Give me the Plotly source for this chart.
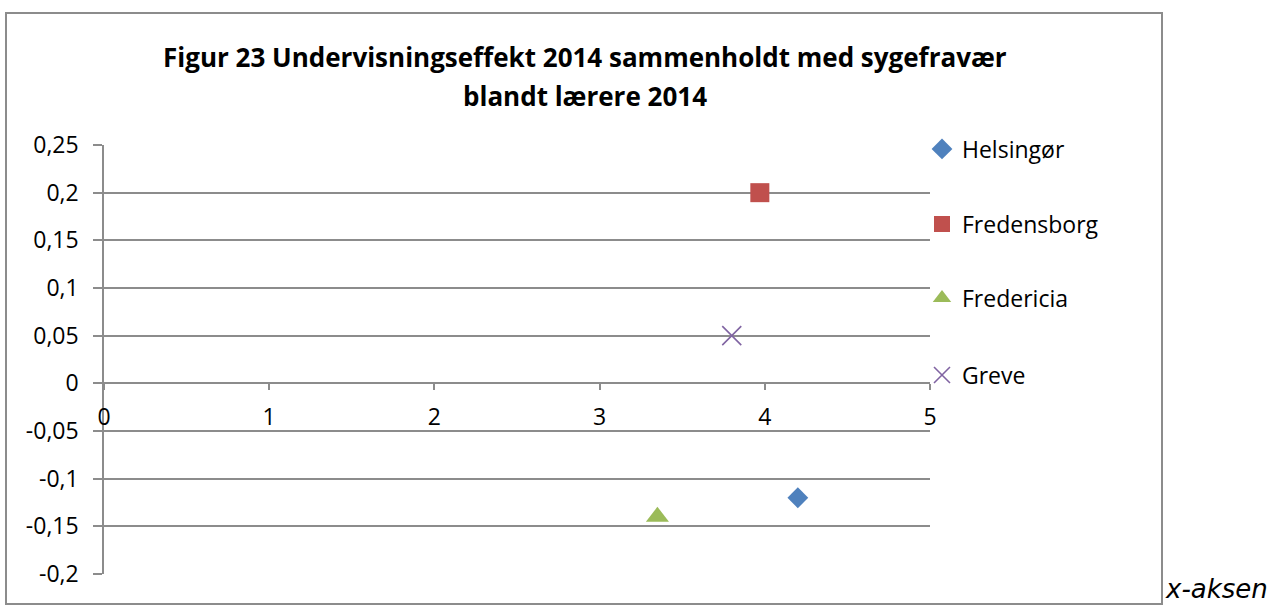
import plotly.graph_objects as go

names = ["Helsingør", "Fredensborg", "Fredericia", "Greve"]
x_vals = [4.2, 3.97, 3.35, 3.8]
y_vals = [-0.12, 0.2, -0.14, 0.05]
colors = ["#4F81BD", "#C0504D", "#9BBB59", "#8064A2"]
symbols = ["diamond", "square", "triangle-up", "x-thin-open"]
sizes = [16, 19, 20, 19]
legend_y_px = [149, 224, 298, 375]

x_ticks = [0, 1, 2, 3, 4, 5]
y_ticks = [-0.2, -0.15, -0.1, -0.05, 0, 0.05, 0.1, 0.15, 0.2, 0.25]
y_tick_text = ["-0,2", "-0,15", "-0,1", "-0,05", "0", "0,05", "0,1", "0,15", "0,2", "0,25"]

W, H = 1282, 610
L, R, T, B = 104, 930, 145, 574
pw, ph = R - L, B - T

fig = go.Figure()
legend_ids = ["legend", "legend2", "legend3", "legend4"]
for i, n in enumerate(names):
    mk = dict(color=colors[i], size=sizes[i], symbol=symbols[i])
    if symbols[i] == "x-thin-open":
        mk["line"] = dict(color=colors[i], width=1.6)
    else:
        mk["line"] = dict(width=0)
    fig.add_trace(go.Scatter(x=[x_vals[i]], y=[y_vals[i]], mode="markers", name=n,
                             marker=mk, legend=legend_ids[i], hoverinfo="skip"))

grid = "#8C8C8C"
font = "Open Sans"
layout = dict(
    width=W, height=H,
    margin=dict(l=L, r=W - R, t=T, b=H - B),
    paper_bgcolor="white", plot_bgcolor="white",
    font=dict(family=font, size=23, color="black"),
    xaxis=dict(range=[0, 5], tickvals=x_ticks, ticktext=[str(v) for v in x_ticks],
               showgrid=False, zeroline=False, showline=True, linecolor=grid, linewidth=1.5,
               ticks="outside", ticklen=6, tickcolor=grid, tickwidth=1.5,
               anchor="free", position=0.2 / 0.45, ticklabelstandoff=7,
               tickfont=dict(size=23), fixedrange=True),
    yaxis=dict(range=[-0.2, 0.25], tickvals=y_ticks, ticktext=y_tick_text,
               showgrid=True, gridcolor=grid, gridwidth=1.5, zeroline=False,
               showline=True, linecolor=grid, linewidth=1.5,
               ticks="outside", ticklen=9, tickcolor=grid, tickwidth=1.5,
               ticklabelstandoff=10, tickfont=dict(size=23), fixedrange=True),
    showlegend=True,
)
for i, lid in enumerate(legend_ids):
    layout[lid] = dict(x=(922 - L) / pw, xanchor="left", y=(B - legend_y_px[i]) / ph, yanchor="middle",
                       bgcolor="rgba(0,0,0,0)", font=dict(family=font, size=23, color="black"),
                       itemwidth=30, tracegroupgap=0)
fig.update_layout(**layout)

title_lines = ["Figur 23 Undervisningseffekt 2014 sammenholdt med sygefravær", "blandt lærere 2014"]
title_y_px = [57, 96]
for txt, ty in zip(title_lines, title_y_px):
    fig.add_annotation(text="<b>" + txt + "</b>", xref="paper", yref="paper",
                       x=(585 - L) / pw, xanchor="center", y=(B - ty) / ph, yanchor="middle",
                       showarrow=False, font=dict(family=font, size=26, color="black"))

fig.add_shape(type="rect", xref="paper", yref="paper",
              x0=(6 - L) / pw, x1=(1162 - L) / pw, y0=(B - 604) / ph, y1=(B - 13) / ph,
              line=dict(color=grid, width=2), fillcolor="rgba(0,0,0,0)", layer="below")
fig.add_annotation(text="<i>x-aksen</i>", xref="paper", yref="paper",
                   x=(1163 - L) / pw, xanchor="left", y=(B - 589) / ph, yanchor="middle",
                   showarrow=False, font=dict(family="DejaVu Sans", size=26, color="black"))

fig.write_html("out.html", config={"displayModeBar": False},
               post_script="document.body.style.margin='0';")
